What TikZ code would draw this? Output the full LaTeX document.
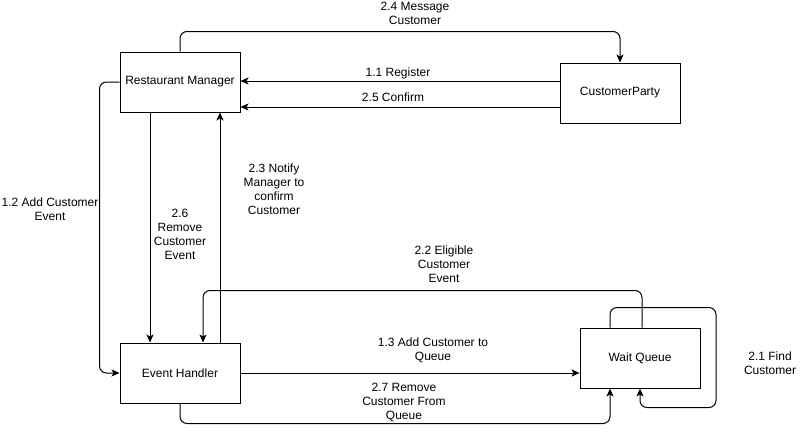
\documentclass[tikz,border=0pt]{standalone}
\usepackage{fontspec}
\setmainfont{Liberation Sans}
\usetikzlibrary{arrows.meta,calc}
\begin{document}
\begin{tikzpicture}[x=1pt,y=-1pt,
  box/.style={draw,line width=1pt,minimum width=120pt,minimum height=60pt,inner sep=0pt,font=\fontsize{12}{14}\selectfont},
  lbl/.style={align=center,inner sep=0pt,font=\fontsize{12}{14}\selectfont},
  arr/.style={line width=1pt,-{Stealth[length=8pt,width=7pt,inset=2pt]}},
  elbow/.style={rounded corners=7pt}]
\useasboundingbox (0,0) rectangle (811,432);
\node[box] (rm) at (180,82) {Restaurant Manager};
\node[box] (cp) at (620,93) {CustomerParty};
\node[box] (eh) at (180,373) {Event Handler};
\node[box] (wq) at (640,358) {Wait Queue};
\draw[arr,elbow] (rm.north) -- ++(0,-20) -| (cp.north);
\draw[arr] ($(cp.west)+(0,-12)$) coordinate (r1) -- (rm.east |- r1);
\draw[arr] ($(cp.west)+(0,14)$) coordinate (r2) -- (rm.east |- r2);
\draw[arr,elbow] (rm.west) -- ++(-20,0) |- (eh.west);
\draw[arr] ($(rm.south)+(-30,0)$) -- ($(eh.north)+(-30,0)$);
\draw[arr] ($(eh.north)+(40,0)$) -- ($(rm.south)+(40,0)$);
\draw[arr,elbow] ($(wq.north)+(2,0)$) -- ++(0,-37) -| ($(eh.north)+(23,0)$);
\draw[arr,elbow] ($(wq.north)+(-30,0)$) -- ++(0,-20) -- ++(106,0) -- ++(0,100) -| (wq.south);
\draw[arr] (eh.east) -- (wq.west |- eh.east);
\draw[arr,elbow] (eh.south) -- ++(0,20) -| ($(wq.south)+(-30,0)$);
\node[lbl] (l24) at (415,13) {2.4 Message\\Customer};
\node[lbl] (l11) at (398,73) {1.1 Register};
\node[lbl] (l25) at (393,97) {2.5 Confirm};
\node[lbl] (l12) at (50,209) {1.2 Add Customer\\Event};
\node[lbl] (l26) at (180,234) {2.6\\Remove\\Customer\\Event};
\node[lbl] (l23) at (274,189) {2.3 Notify\\Manager to\\confirm\\Customer};
\node[lbl] (l22) at (444,264) {2.2 Eligible\\Customer\\Event};
\node[lbl] (l13) at (433,350) {1.3 Add Customer to\\Queue};
\node[lbl] (l27) at (404,402) {2.7 Remove\\Customer From\\Queue};
\node[lbl] (l21) at (770,363) {2.1 Find\\Customer};
\end{tikzpicture}
\end{document}
